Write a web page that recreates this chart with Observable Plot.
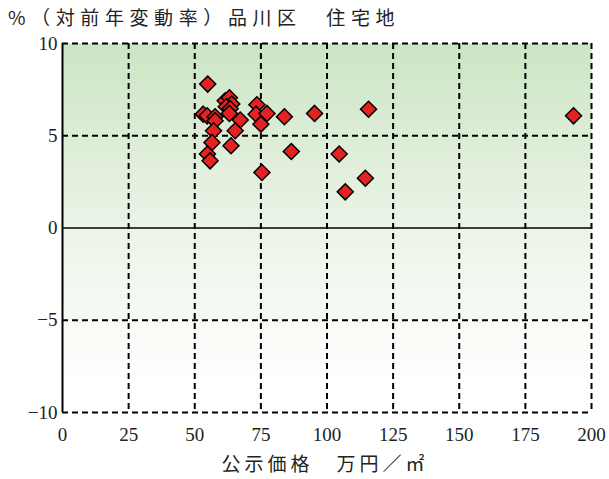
<!DOCTYPE html>
<html><head><meta charset="utf-8">
<script src="https://cdn.jsdelivr.net/npm/d3@7"></script>
<script src="https://cdn.jsdelivr.net/npm/@observablehq/plot@0.6"></script>
<style>
body{margin:0;background:#fff;}
#wrap{position:relative;width:609px;height:479px;}
#title{position:absolute;left:8px;top:3px;font-family:"Noto Sans CJK JP","Liberation Serif",serif;font-size:19px;letter-spacing:5.6px;color:#222;white-space:pre;}
#wrap svg{position:absolute;left:0;top:0;}
</style></head>
<body><div id="wrap"><div id="title">%（対前年変動率）品川区　住宅地</div></div>
<script>
const priceX = [54.9,61.5,63.1,64.0,61.9,63.4,53.2,54.7,57.7,63.1,57.7,67.2,73.5,73.2,77.3,75.0,65.3,57.1,83.9,95.3,115.7,56.5,63.7,54.8,55.8,86.5,104.6,75.4,114.5,106.9,193.2];
const changeY = [7.80,6.90,7.06,6.72,6.57,6.46,6.17,6.08,6.03,6.21,5.81,5.85,6.68,6.17,6.21,5.63,5.27,5.27,6.03,6.21,6.44,4.63,4.46,4.01,3.64,4.15,4.01,3.01,2.70,1.96,6.08];
const xTicks = [0,25,50,75,100,125,150,175,200];
const yTicks = [-10,-5,0,5,10];
const xLabel = "公示価格　万円／㎡";

const data = priceX.map((x,i)=>({x, y: changeY[i]}));
const dash = "6,4";
const chart = Plot.plot({
  width: 609, height: 479,
  marginLeft: 62, marginRight: 18, marginTop: 43, marginBottom: 67,
  style: {fontFamily: "'Liberation Serif', serif", fontSize: "19px", color: "#222", background: "transparent"},
  x: {domain: [0,200], ticks: xTicks, tickSize: 0, label: null},
  y: {domain: [-10,10], ticks: yTicks, tickSize: 0, label: null},
  marks: [
    Plot.frame({fill: "url(#bgGrad)", stroke: "none"}),
    Plot.ruleX(xTicks.filter(d=>d>0), {stroke:"#000", strokeWidth:2, strokeDasharray: dash}),
    Plot.ruleY(yTicks.filter(d=>d!==0), {stroke:"#000", strokeWidth:2, strokeDasharray: dash}),
    Plot.ruleY([0], {stroke:"#000", strokeWidth:1.3}),
    Plot.ruleX([0], {stroke:"#000", strokeWidth:2}),
    Plot.dot(data, {x:"x", y:"y", symbol:"diamond2", r:7.2, fill:"#e42222", stroke:"#000", strokeWidth:1.5}),
    Plot.axisX({ticks: xTicks, tickSize:0, tickPadding:15, label:null}),
    Plot.axisY({ticks: yTicks, tickSize:0, tickPadding:5, label:null}),
    Plot.text([xLabel], {frameAnchor:"bottom", dy: 58, dx: -2, fontFamily:"'Noto Sans CJK JP', sans-serif", fontSize:19, fill:"#222"})
  ]
});
const svg = d3.select(chart);
svg.selectAll("text").filter(function(){ return this.textContent === xLabel; }).style("letter-spacing","4px");
const defs = svg.insert("defs", ":first-child");
const g = defs.append("linearGradient").attr("id","bgGrad").attr("x1",0).attr("y1",0).attr("x2",0).attr("y2",1);
g.append("stop").attr("offset","0%").attr("stop-color","#cce5c4");
g.append("stop").attr("offset","50%").attr("stop-color","#ebf4e7");
g.append("stop").attr("offset","92%").attr("stop-color","#ffffff");
document.getElementById("wrap").appendChild(chart);
</script></body></html>
